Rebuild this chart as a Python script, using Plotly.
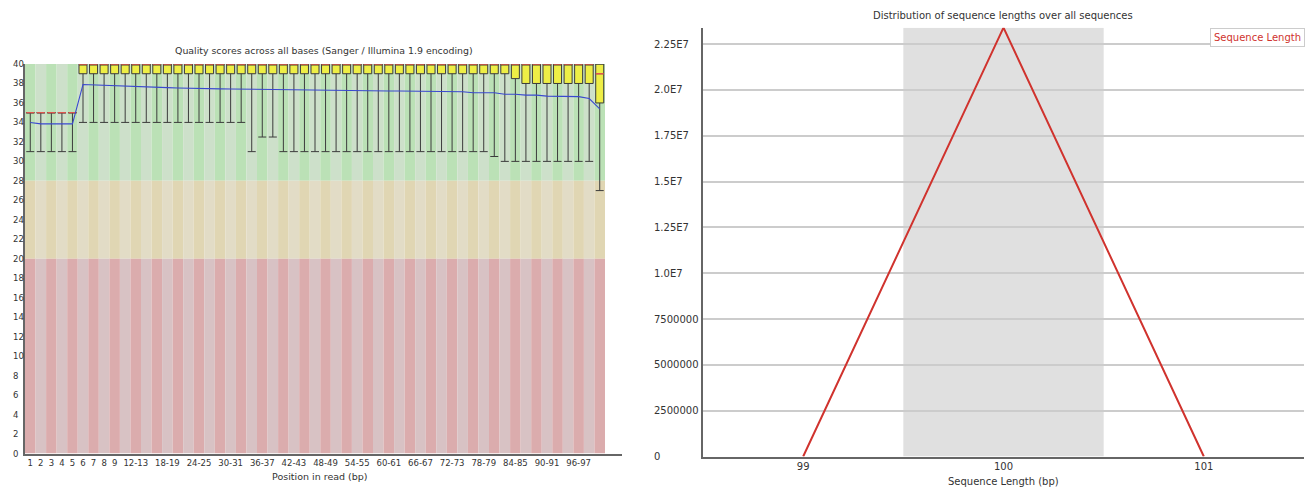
import plotly.graph_objects as go

# ---------------- Per-base quality (left panel) ----------------
positions = [str(i) for i in range(1, 10)] + [f"{a}-{a + 1}" for a in range(10, 100, 2)] + ["100"]

q_mean = [34.0, 33.85, 33.85, 33.85, 33.85, 37.9, 37.85, 37.82, 37.78, 37.72,
          37.68, 37.64, 37.6, 37.57, 37.54, 37.5, 37.48, 37.46, 37.45, 37.44,
          37.42, 37.41, 37.4, 37.38, 37.36, 37.34, 37.33, 37.32, 37.3, 37.28,
          37.25, 37.24, 37.23, 37.23, 37.22, 37.22, 37.21, 37.21, 37.2, 37.2,
          37.15, 37.15, 37.05, 37.05, 37.05, 36.9, 36.9, 36.8, 36.8, 36.7,
          36.7, 36.65, 36.65, 36.45, 35.4]
q_median = [35] * 5 + [40] * 49 + [39]
q_lower = [35] * 5 + [39] * 41 + [38.5] + [38] * 7 + [36]
q_upper = [35] * 5 + [40] * 50
q_p10 = [31] * 5 + [34] * 16 + [31] + [32.5] * 2 + [31] * 20 + [30.5] + [30] * 9 + [27]
q_p90 = [35] * 5 + [40] * 50

shown_ticks = list(range(0, 9)) + list(range(10, 55, 3))
quality_ticks = list(range(0, 41, 2))

# background bands: (low, high, dark stripe, light stripe)
bands = [
    (28, 40, "#bbe1b6", "#cde0ca"),
    (20, 28, "#e0d6b3", "#e2dcc6"),
    (0, 20, "#dbacad", "#d8c2c4"),
]

# ---------------- Sequence length distribution (right panel) ----------------
seq_len = [99, 100, 101]
seq_count = [0, 23400000, 0]
count_ticks = [0, 2500000, 5000000, 7500000, 10000000, 12500000,
               15000000, 17500000, 20000000, 22500000]
count_tick_text = ["0", "2500000", "5000000", "7500000", "1.0E7", "1.25E7",
                   "1.5E7", "1.75E7", "2.0E7", "2.25E7"]

W, H = 1313, 489
FONT = "DejaVu Sans"
TXT = "#333333"

def px(x):
    return x / W

def py(y):
    return 1 - y / H

n = len(positions)
idx = list(range(n))
box_w = 0.76

fig = go.Figure()

fig.add_trace(go.Box(
    x=idx, q1=q_lower, median=q_median, q3=q_upper,
    lowerfence=q_p10, upperfence=q_p90,
    width=box_w, whiskerwidth=1, boxpoints=False,
    fillcolor="#eeee46", line=dict(color="#3c3c3c", width=1),
    xaxis="x", yaxis="y", showlegend=False, hoverinfo="skip",
))

# median marks
mx, my = [], []
for i, m in zip(idx, q_median):
    mx += [i - box_w / 2, i + box_w / 2, None]
    my += [m, m, None]
fig.add_trace(go.Scatter(x=mx, y=my, mode="lines",
                         line=dict(color="#e0564e", width=1.3),
                         xaxis="x", yaxis="y", showlegend=False, hoverinfo="skip"))

# mean line
fig.add_trace(go.Scatter(x=idx, y=q_mean, mode="lines",
                         line=dict(color="#3a48d0", width=1.1),
                         xaxis="x", yaxis="y", showlegend=False, hoverinfo="skip"))

fig.add_trace(go.Scatter(x=seq_len, y=seq_count, mode="lines",
                         line=dict(color="#d0332e", width=2),
                         xaxis="x2", yaxis="y2", showlegend=False, hoverinfo="skip"))

shapes = []
for lo, hi, dark, light in bands:
    for i in idx:
        shapes.append(dict(type="rect", xref="x", yref="y", layer="below",
                           x0=i - 0.5, x1=i + 0.5, y0=lo, y1=hi,
                           fillcolor=dark if i % 2 == 0 else light,
                           line=dict(width=0)))
# shaded band behind the middle length
shapes.append(dict(type="rect", xref="x2", yref="y2", layer="below",
                   x0=seq_len[1] - 0.5, x1=seq_len[1] + 0.5,
                   y0=0, y1=max(seq_count), fillcolor="#e0e0e0",
                   line=dict(width=0)))

annotations = []
for q in quality_ticks:
    annotations.append(dict(text=str(q), xref="paper", yref="y", x=px(10.5), y=q,
                            xanchor="left", yanchor="middle", showarrow=False,
                            font=dict(family=FONT, size=8.5, color=TXT)))
for v, t in zip(count_ticks, count_tick_text):
    annotations.append(dict(text=t, xref="paper", yref="y2", x=px(652), y=v,
                            xanchor="left", yanchor="middle", showarrow=False,
                            font=dict(family=FONT, size=10, color=TXT)))

annotations += [
    dict(text="Quality scores across all bases (Sanger / Illumina 1.9 encoding)",
         xref="paper", yref="paper", x=px(324), y=py(51), xanchor="center",
         yanchor="middle", showarrow=False, font=dict(family=FONT, size=9.4, color=TXT)),
    dict(text="Position in read (bp)", xref="paper", yref="paper", x=px(320), y=py(476.5),
         xanchor="center", yanchor="middle", showarrow=False,
         font=dict(family=FONT, size=9.5, color=TXT)),
    dict(text="Distribution of sequence lengths over all sequences",
         xref="paper", yref="paper", x=px(1003), y=py(16), xanchor="center",
         yanchor="middle", showarrow=False, font=dict(family=FONT, size=10, color=TXT)),
    dict(text="Sequence Length (bp)", xref="paper", yref="paper", x=px(1003), y=py(481.5),
         xanchor="center", yanchor="middle", showarrow=False,
         font=dict(family=FONT, size=10, color=TXT)),
    dict(text="Sequence Length", xref="paper", yref="paper", x=px(1305), y=py(27.5),
         xanchor="right", yanchor="top", showarrow=False, bgcolor="white",
         bordercolor="#cccccc", borderwidth=1, borderpad=3,
         font=dict(family=FONT, size=10, color="#d0332e")),
]

axis_line = dict(showline=True, linecolor="#666666", linewidth=2, zeroline=False,
                 showgrid=False, ticks="")

fig.update_layout(
    width=W, height=H, margin=dict(l=0, r=0, t=0, b=0),
    paper_bgcolor="white", plot_bgcolor="rgba(0,0,0,0)",
    font=dict(family=FONT, color=TXT),
    shapes=shapes, annotations=annotations,
    xaxis=dict(domain=[px(25), px(622)], range=[-0.5, n - 0.5 + 17 / 10.545],
               tickmode="array", tickvals=shown_ticks,
               ticktext=[positions[i] for i in shown_ticks],
               tickfont=dict(size=8.5, color=TXT), anchor="y", ticklabelstandoff=0,
               **axis_line),
    yaxis=dict(domain=[py(453.5), py(64)], range=[0, 40], showticklabels=False,
               anchor="x", **axis_line),
    xaxis2=dict(domain=[px(703), px(1304)], range=[98.5, 101.5],
                tickmode="array", tickvals=seq_len, ticktext=[str(v) for v in seq_len],
                tickfont=dict(size=10, color=TXT), anchor="y2", ticklabelstandoff=-1,
                **axis_line),
    yaxis2=dict(domain=[py(456.5), py(27.7)], range=[0, max(seq_count)],
                showline=True, linecolor="#666666", linewidth=2, zeroline=False,
                showgrid=True, gridcolor="#cccccc", gridwidth=1.5,
                tickmode="array", tickvals=count_ticks, showticklabels=False,
                ticks="", anchor="x2"),
)

fig.write_html("out.html")
